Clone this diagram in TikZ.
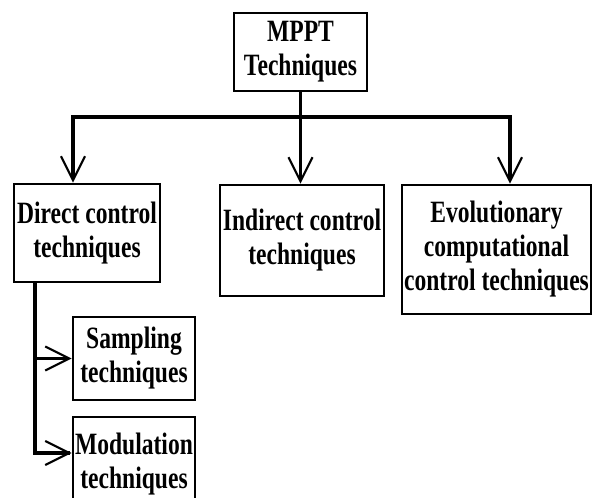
\documentclass[tikz,border=0pt]{standalone}
\usepackage{fontspec}
\newfontfamily\boxfont{Liberation Serif}[FakeStretch=0.76]
\usetikzlibrary{arrows.meta}
\begin{document}
\begin{tikzpicture}[x=1pt, y=-1pt,
        tbox/.style={draw, line width=2.6pt, inner sep=0pt, align=center,
            font=\boxfont\bfseries\fontsize{31}{34}\selectfont},
        link/.style={line width=3.6pt},
        arr/.style={line width=3.6pt, -{Straight Barb[length=24pt, width=24pt, line width=2.2pt]}}]
        \useasboundingbox (0,0) rectangle (593,497);
        \clip (0,0) rectangle (593,497);

        % Boxes
        \node [tbox, minimum width=133pt, minimum height=78pt] (mppt) at (300.5,52) {MPPT\\Techniques};
        \node [tbox, minimum width=146pt, minimum height=98pt] (dct) at (87,233) {Direct control\\techniques};
        \node [tbox, minimum width=164pt, minimum height=111pt] (ict) at (302,240.5) {Indirect control\\techniques};
        \node [tbox, minimum width=189pt, minimum height=129pt] (ecct) at (496.5,249.5) {Evolutionary\\computational\\control techniques};
        \node [tbox, minimum width=122pt, minimum height=83pt] (smp) at (134,358.5) {Sampling\\techniques};
        \node [tbox, minimum width=122pt, minimum height=95pt] (mod) at (134,464.5) {Modulation\\techniques};

        % Top branching
        \coordinate (hub) at (300.5,117);
        \coordinate (bl) at (73,117);
        \coordinate (br) at (510,117);
        \draw [link] (mppt.south) -- (hub);
        \draw [link, line cap=rect] (bl) -- (br);
        \draw [arr] (bl) -- (bl |- dct.north);
        \draw [arr] (hub) -- (hub |- ict.north);
        \draw [arr] (br) -- (br |- ecct.north);

        % Left branching
        \coordinate (sp) at (35,453);
        \draw [link] (sp |- dct.south) -- (sp);
        \draw [arr] (sp |- smp.west) -- (smp.west);
        \draw [arr, line cap=rect] (sp) -- (mod.west |- sp);
\end{tikzpicture}
\end{document}
